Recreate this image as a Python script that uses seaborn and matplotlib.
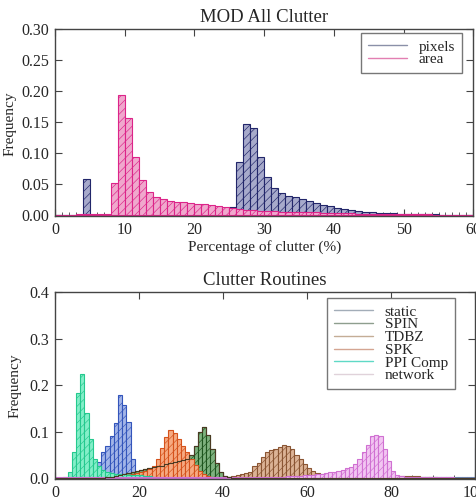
import numpy as np
import pandas as pd
import seaborn as sns
import matplotlib.pyplot as plt
from matplotlib.lines import Line2D
from matplotlib.ticker import MultipleLocator

# top panel: MOD all clutter, 1 % bins from 0 to 60
pixels_start = 0
pixels_vals = [0, 0, 0, 0, 0.058, 0, 0, 0, 0.001, 0.001,
               0.001, 0.001, 0.001, 0.001, 0.001, 0.001, 0.001, 0.001, 0.001, 0.001,
               0.001, 0.001, 0.001, 0.002, 0.003, 0.012, 0.086, 0.147, 0.140, 0.093,
               0.061, 0.043, 0.035, 0.031, 0.028, 0.025, 0.022, 0.019, 0.016, 0.014,
               0.011, 0.009, 0.007, 0.006, 0.005, 0.004, 0.0035, 0.003, 0.0025, 0.002,
               0.0015, 0.001, 0.0008, 0.0006, 0.0005, 0.0004, 0.0003, 0.0003, 0.0003, 0.0003]
area_start = 0
area_vals = [0.0003, 0.0003, 0.0004, 0.0005, 0.0008, 0.001, 0.0012, 0.002, 0.051, 0.193,
             0.157, 0.094, 0.056, 0.037, 0.029, 0.025, 0.022, 0.021, 0.020, 0.019,
             0.018, 0.017, 0.016, 0.014, 0.0125, 0.011, 0.009, 0.008, 0.007, 0.0065,
             0.006, 0.0055, 0.005, 0.0048, 0.0045, 0.0042, 0.004, 0.0037, 0.0034, 0.0031,
             0.0028, 0.0025, 0.0022, 0.002, 0.0018, 0.0015, 0.0012, 0.001, 0.0009, 0.0008,
             0.0007, 0.0006, 0.0005, 0.0005, 0.0004, 0.0004, 0.0003, 0.0003, 0.0003, 0.0003]

# bottom panel: clutter routines, 1 % bins from 0 to 100
static_start = 8
static_vals = [0.002, 0.006, 0.035, 0.055, 0.070, 0.090, 0.118, 0.178, 0.158, 0.120,
               0.040, 0.004, 0.002]
static_edge_start = 82
static_edge_vals = [0.001, 0.001, 0.002, 0.002, 0.002, 0.002, 0.002, 0.002, 0.002, 0.002,
                    0.002, 0.002, 0.002, 0.002, 0.002, 0.002, 0.002, 0.002, 0.065]
spin_start = 12
spin_vals = [0.002, 0.003, 0.004, 0.006, 0.008, 0.010, 0.012, 0.015, 0.017, 0.019,
             0.021, 0.023, 0.025, 0.027, 0.030, 0.032, 0.034, 0.036, 0.038, 0.040,
             0.050, 0.070, 0.098, 0.110, 0.092, 0.062, 0.033, 0.012, 0.005, 0.002]
tdbz_start = 40
tdbz_vals = [0.002, 0.003, 0.004, 0.006, 0.008, 0.010, 0.014, 0.025, 0.033, 0.045,
             0.055, 0.060, 0.063, 0.067, 0.071, 0.069, 0.062, 0.050, 0.040, 0.030,
             0.022, 0.015, 0.011, 0.009, 0.008, 0.007, 0.006, 0.005, 0.005, 0.004,
             0.004, 0.004, 0.003, 0.003, 0.003, 0.003, 0.003, 0.003, 0.003, 0.003,
             0.004, 0.004, 0.004, 0.004, 0.004, 0.004, 0.004, 0.003, 0.003, 0.002,
             0.002, 0.001]
spk_start = 14
spk_vals = [0.003, 0.004, 0.005, 0.006, 0.008, 0.010, 0.013, 0.016, 0.020, 0.027,
            0.042, 0.065, 0.088, 0.103, 0.097, 0.085, 0.070, 0.055, 0.042, 0.028,
            0.016, 0.008, 0.004, 0.002]
ppi_start = 1
ppi_vals = [0.001, 0.003, 0.012, 0.055, 0.183, 0.223, 0.140, 0.085, 0.040, 0.025,
            0.018, 0.012, 0.010, 0.009, 0.008, 0.008, 0.007, 0.007, 0.006, 0.006,
            0.005, 0.004, 0.003, 0.002, 0.001]
network_start = 0
network_vals = [0.002, 0.002, 0.002, 0.002, 0.002, 0.002, 0.002, 0.002, 0.002, 0.002,
                0.002, 0.002, 0.002, 0.002, 0.002, 0.002, 0.002, 0.002, 0.002, 0.002,
                0.002, 0.002, 0.002, 0.002, 0.002, 0.002, 0.002, 0.002, 0.002, 0.002,
                0.002, 0.002, 0.002, 0.002, 0.002, 0.002, 0.002, 0.002, 0.002, 0.002,
                0.002, 0.003, 0.003, 0.003, 0.003, 0.003, 0.003, 0.003, 0.003, 0.003,
                0.003, 0.003, 0.003, 0.003, 0.003, 0.004, 0.004, 0.005, 0.005, 0.006,
                0.006, 0.007, 0.008, 0.009, 0.010, 0.012, 0.013, 0.016, 0.018, 0.021,
                0.024, 0.030, 0.040, 0.055, 0.072, 0.091, 0.092, 0.090, 0.062, 0.037,
                0.016, 0.006, 0.004, 0.003, 0.002, 0.002, 0.002, 0.002, 0.002, 0.002,
                0.002, 0.002, 0.002, 0.002, 0.002, 0.001, 0.001, 0.001, 0.001, 0.001]

top_names = ['pixels', 'area']
bottom_names = ['static', 'SPIN', 'TDBZ', 'SPK', 'PPI Comp', 'network']

sns.set_style('ticks')
plt.rcParams['font.family'] = ['Liberation Serif', 'DejaVu Serif']
plt.rcParams['hatch.linewidth'] = 0.45
plt.rcParams['axes.edgecolor'] = '#444444'


def bins_df(start, vals):
    # each value is the height of one 1-% bin
    return pd.DataFrame({'pct': np.arange(start, start + len(vals)) + 0.5, 'freq': vals})


def draw(ax, start, vals, nbins, face, edge):
    sns.histplot(data=bins_df(start, vals), x='pct', weights='freq', binwidth=1,
                 binrange=(0, nbins), ax=ax, color=face, edgecolor=edge,
                 linewidth=0.8, hatch='////', alpha=1)


def style(ax, xmax, xmajor, xminor, ymax, ystep, fmt):
    ax.set_xlim(0, xmax)
    ax.set_ylim(-0.002, ymax)
    ax.xaxis.set_major_locator(MultipleLocator(xmajor))
    ax.xaxis.set_minor_locator(MultipleLocator(xminor))
    ax.yaxis.set_major_locator(MultipleLocator(ystep))
    ax.yaxis.set_major_formatter(fmt)
    ax.tick_params(which='both', direction='in', top=True, right=True, labelsize=11.5,
                   color='#444444', pad=4)
    ax.tick_params(which='major', length=5)
    ax.tick_params(which='minor', length=3, top=False)
    for s in ax.spines.values():
        s.set_linewidth(1)
    ax.set_ylabel('Frequency', fontsize=11)


leg_kw = dict(loc='upper right', fontsize=11, frameon=True, fancybox=False,
              edgecolor='#777777', framealpha=1, handlelength=2.6, handletextpad=0.75,
              labelspacing=-0.06, borderpad=0.45, borderaxespad=0)

fig = plt.figure(figsize=(4.76, 5.04), dpi=100)
ax1 = fig.add_axes([0.1155, 0.5714, 0.879, 0.371])
ax2 = fig.add_axes([0.1155, 0.0496, 0.8825, 0.371])

# top panel
draw(ax1, pixels_start, pixels_vals, 60, '#a7aacb', '#22266a')
draw(ax1, area_start, area_vals, 60, '#f0a8cd', '#dc2489')
style(ax1, 60, 10, 1, 0.30, 0.05, '{x:.2f}')
ax1.set_title('MOD All Clutter', fontsize=13.5, pad=5)
ax1.set_xlabel('Percentage of clutter (%)', fontsize=11, labelpad=2)
ax1.yaxis.set_label_coords(-0.091, 0.495)
h1 = [Line2D([], [], color=c, lw=1) for c in ['#8a90a8', '#e27fb2']]
ax1.legend(h1, top_names, bbox_to_anchor=(0.973, 0.979), **leg_kw)

# bottom panel
draw(ax2, static_start, static_vals, 101, '#a3b5e8', '#3355bb')
draw(ax2, static_edge_start, static_edge_vals, 101, '#a3b5e8', '#6f8fd0')
draw(ax2, spin_start, spin_vals, 101, '#7fb27f', '#1e551e')
draw(ax2, spk_start, spk_vals, 101, '#f6aa82', '#d5521c')
# SPIN outline stays visible across the SPK bars
sns.histplot(data=bins_df(spin_start, spin_vals), x='pct', weights='freq', binwidth=1,
             binrange=(0, 101), ax=ax2, element='step', fill=False, color='#4a3a22',
             linewidth=0.8)
draw(ax2, tdbz_start, tdbz_vals, 101, '#dcb396', '#8a5533')
draw(ax2, ppi_start, ppi_vals, 101, '#84efc9', '#24c98e')
draw(ax2, network_start, network_vals, 101, '#f2c6f2', '#d070d2')
style(ax2, 100, 20, 5, 0.4, 0.1, '{x:.1f}')
ax2.set_xlabel('')
ax2.set_title('Clutter Routines', fontsize=13.5, pad=5)
ax2.yaxis.set_label_coords(-0.079, 0.5)
h2 = [Line2D([], [], color=c, lw=1) for c in
      ['#a3adb8', '#8e9e8e', '#c4ad96', '#d4a592', '#5fd9c6', '#e0d2da']]
ax2.legend(h2, bottom_names, bbox_to_anchor=(0.952, 0.968), **leg_kw)

plt.savefig('out.png', dpi=100)
